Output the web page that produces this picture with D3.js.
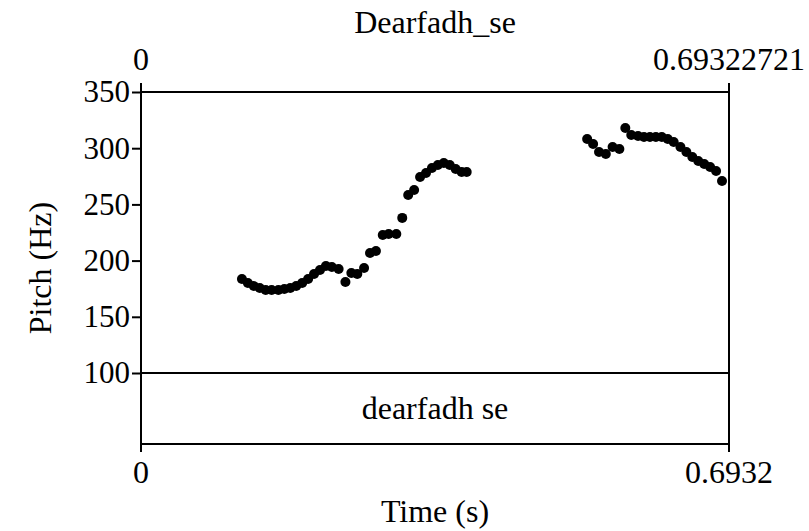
<!DOCTYPE html>
<html lang="en">
<head>
<meta charset="utf-8">
<script src="https://d3js.org/d3.v7.min.js"></script>
<style>
body { margin: 0; background: #fff; }
text { font-family: "Liberation Serif", "Times New Roman", serif; font-size: 32px; fill: #000; }
</style>
</head>
<body>
<svg id="chart" width="809" height="531"></svg>
<script>
// pitch track, segment 1 (time in s, pitch in Hz)
var times1 = [0.119, 0.126, 0.133, 0.140, 0.147, 0.154, 0.162, 0.169, 0.176, 0.183,
              0.190, 0.197, 0.204, 0.211, 0.218, 0.225, 0.233, 0.241, 0.248, 0.255,
              0.263, 0.270, 0.277, 0.285, 0.292, 0.301, 0.308, 0.315, 0.322, 0.329,
              0.336, 0.343, 0.350, 0.357, 0.364, 0.371, 0.378, 0.384];
var pitch1 = [183.6, 180, 177.4, 175.6, 173.8, 173.8, 173.8, 174.7, 175.6, 177.4,
              180, 183.6, 188, 191.6, 195.2, 194.3, 192.5, 181, 189, 188,
              193.4, 206.8, 208.5, 222.8, 223.7, 223.7, 238, 258.4, 262.8, 274.4,
              278, 282.4, 285, 286.8, 285, 281.5, 278.8, 278.8];
// segment 2
var times2 = [0.526, 0.533, 0.540, 0.548, 0.556, 0.564, 0.571, 0.578, 0.586, 0.593,
              0.600, 0.607, 0.614, 0.621, 0.628, 0.636, 0.643, 0.650, 0.657, 0.664,
              0.671, 0.678, 0.685];
var pitch2 = [308.2, 303.7, 296.6, 294.8, 301.1, 299.3, 318, 311.7, 310.9, 310,
              310, 310, 310, 308.2, 305.5, 301.1, 296.6, 292.2, 288.6, 286,
              283.3, 279.7, 270.8];

var yTicks = [100, 150, 200, 250, 300, 350];
var tMax = 0.69322721;
var title = "Dearfadh_se";
var tierText = "dearfadh se";

var svg = d3.select("#chart");
var plotLeft = 141, plotRight = 729, plotTop = 92, pitchBottom = 373, tierBottom = 444;

var x = d3.scaleLinear().domain([0, tMax]).range([plotLeft, plotRight]);
var y = d3.scaleLinear().domain([100, 350]).range([pitchBottom, plotTop]);

var points = times1.map(function(t, i) { return {t: t, f: pitch1[i]}; })
  .concat(times2.map(function(t, i) { return {t: t, f: pitch2[i]}; }));

// frame
var frame = svg.append("g").attr("stroke", "#000").attr("stroke-width", 2).attr("fill", "none");
frame.append("line").attr("x1", plotLeft).attr("x2", plotRight).attr("y1", plotTop).attr("y2", plotTop);
frame.append("line").attr("x1", plotLeft).attr("x2", plotRight).attr("y1", pitchBottom).attr("y2", pitchBottom);
frame.append("line").attr("x1", plotLeft).attr("x2", plotRight).attr("y1", tierBottom).attr("y2", tierBottom);
frame.append("line").attr("x1", x(0)).attr("x2", x(0)).attr("y1", plotTop - 9).attr("y2", tierBottom + 8);
frame.append("line").attr("x1", x(tMax)).attr("x2", x(tMax)).attr("y1", plotTop - 9).attr("y2", tierBottom + 8);

// y axis
var yAxis = d3.axisLeft(y).tickValues(yTicks).tickSize(9).tickPadding(2);
var ya = svg.append("g").attr("transform", "translate(" + plotLeft + ",0)").call(yAxis);
ya.select(".domain").remove();
ya.selectAll("line").attr("stroke", "#000").attr("stroke-width", 2);
ya.selectAll("text").style("font-family", "Liberation Serif").style("font-size", "31px").attr("fill", "#000");

// points
svg.append("g").selectAll("circle")
  .data(points)
  .enter()
  .append("circle")
  .attr("cx", function(d) { return x(d.t); })
  .attr("cy", function(d) { return y(d.f); })
  .attr("r", 5)
  .attr("fill", "#000");

// texts
svg.append("text").attr("x", (plotLeft + plotRight) / 2).attr("y", 33).attr("text-anchor", "middle").text(title);
svg.append("text").attr("x", x(0)).attr("y", 70).attr("text-anchor", "middle").text("0");
svg.append("text").attr("x", x(tMax)).attr("y", 70).attr("text-anchor", "middle").text(String(tMax));
svg.append("text").attr("x", x(0)).attr("y", 483).attr("text-anchor", "middle").text("0");
svg.append("text").attr("x", x(tMax)).attr("y", 483).attr("text-anchor", "middle").text(tMax.toFixed(4));
svg.append("text").attr("x", (plotLeft + plotRight) / 2).attr("y", 522).attr("text-anchor", "middle").text("Time (s)");
svg.append("text").attr("x", (plotLeft + plotRight) / 2).attr("y", 419).attr("text-anchor", "middle").text(tierText);
svg.append("text")
  .attr("transform", "translate(51," + (plotTop + tierBottom) / 2 + ") rotate(-90)")
  .attr("text-anchor", "middle")
  .text("Pitch (Hz)");
</script>
</body>
</html>
